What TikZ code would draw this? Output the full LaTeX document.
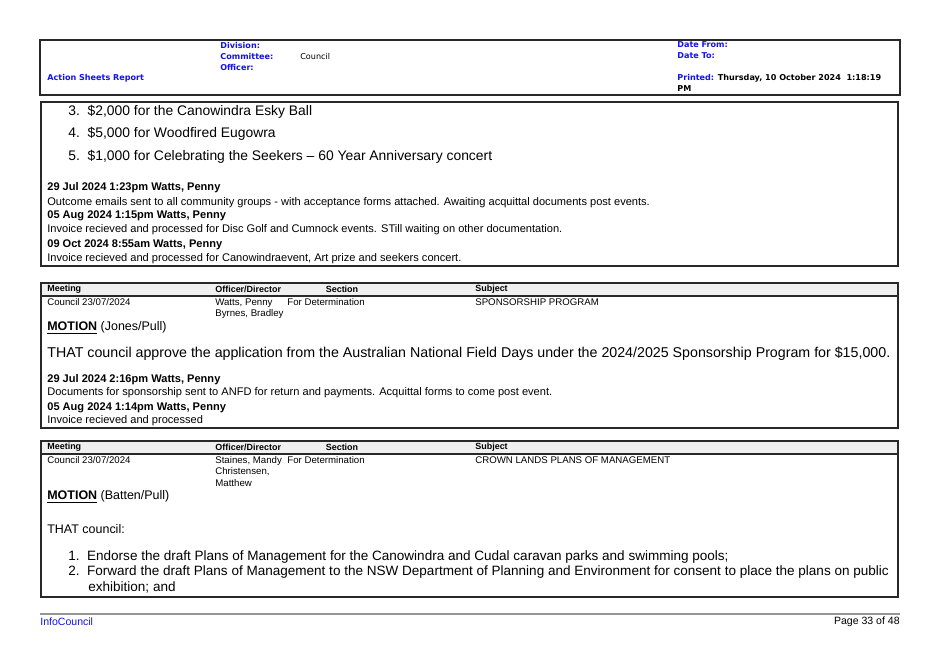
\documentclass[tikz,border=0pt]{standalone}
\usepackage{fontspec}
\setmainfont{Liberation Sans}
\newfontfamily\hdrfont{DejaVu Sans}
\usetikzlibrary{positioning}
\definecolor{hdrBlue}{RGB}{20, 20, 230}
\definecolor{frameGray}{RGB}{40, 40, 40}
\definecolor{bandGray}{RGB}{240, 240, 240}
\definecolor{ruleGray}{RGB}{150, 150, 150}
\tikzset{
    hdr/.style={
        font=\hdrfont\bfseries\fontsize{4.6}{5.6}\selectfont,
        text=hdrBlue,
        anchor=west,
        inner sep=0pt
    },
    big/.style={
        font=\fontsize{7.9}{9}\selectfont,
        anchor=west,
        inner sep=0pt
    },
    mid/.style={
        big,
        font=\fontsize{7.1}{8.5}\selectfont
    },
    small/.style={
        font=\fontsize{5.5}{6.6}\selectfont,
        anchor=west,
        inner sep=0pt
    },
    note/.style={
        small,
        font=\fontsize{6.3}{7.4}\selectfont
    },
    colhead/.style={
        small,
        font=\bfseries\fontsize{5.1}{6.2}\selectfont
    },
    frame/.style={
        draw=frameGray,
        line width=0.9pt
    }
}
\begin{document}
\begin{tikzpicture}[x=0.02cm, y=-0.02cm]
    \useasboundingbox (0,0) rectangle (940,664);
    \fill[white] (0,0) rectangle (940,664);

    % Page header
    \draw[frameGray, line width=0.6pt] (40,40) rectangle (900,95);
    \node[hdr] (division) at (220,45) {Division:};
    \node[hdr] (committee) at (220,56) {Committee:};
    \node[hdr] (officer) at (220,67) {Officer:};
    \node[small, font=\hdrfont\fontsize{4.6}{5.6}\selectfont] (council) at (300,56) {Council};
    \node[hdr] (report) at (47,78) {Action Sheets Report};
    \node[hdr] (datefrom) at (677,45) {Date From:};
    \node[hdr] (dateto) at (677,56) {Date To:};
    \node[hdr] (printed) at (677,78) {Printed: \textcolor{black}{Thursday, 10 October 2024\ \ 1:18:19}};
    \node[hdr, text=black] (pm) at (677,89) {PM};

    % First record (continued)
    \draw[frame] (41,102) rectangle (898,266);
    \node[big] (itemc) at (68,112) {3.\ \ \$2,000 for the Canowindra Esky Ball};
    \node[big] (itemd) at (68,134) {4.\ \ \$5,000 for Woodfired Eugowra};
    \node[big] (iteme) at (68,157) {5.\ \ \$1,000 for Celebrating the Seekers -- 60 Year Anniversary concert};
    \node[note, font=\bfseries\fontsize{6.3}{7.4}\selectfont] (notea) at (47,188) {29 Jul 2024 1:23pm Watts, Penny};
    \node[note] (texta) at (47,203) {Outcome emails sent to all community groups - with acceptance forms attached. Awaiting acquittal documents post events.};
    \node[note, font=\bfseries\fontsize{6.3}{7.4}\selectfont] (noteb) at (47,216) {05 Aug 2024 1:15pm Watts, Penny};
    \node[note] (textb) at (47,230) {Invoice recieved and processed for Disc Golf and Cumnock events. STill waiting on other documentation.};
    \node[note, font=\bfseries\fontsize{6.3}{7.4}\selectfont] (notec) at (47,245) {09 Oct 2024 8:55am Watts, Penny};
    \node[note] (textc) at (47,259) {Invoice recieved and processed for Canowindraevent, Art prize and seekers concert.};

    % Second record
    \fill[bandGray] (41,283) rectangle (898,296);
    \draw[frame] (41,283) rectangle (898,428);
    \draw[frameGray, line width=0.6pt] (41,296) -- (898,296);
    \node[colhead] (meetingb) at (47,289.5) {Meeting};
    \node[colhead] (officerb) at (215,289.5) {Officer/Director};
    \node[colhead, anchor=center] (sectionb) at (342,289.5) {Section};
    \node[colhead] (subjectb) at (475,289.5) {Subject};
    \node[small] (dateb) at (47,302) {Council 23/07/2024};
    \node[small, align=left, anchor=north west] (namesb) at (215,298) {Watts, Penny\\Byrnes, Bradley};
    \node[small] (detb) at (287,302) {For Determination};
    \node[small] (subjb) at (475,302) {SPONSORSHIP PROGRAM};
    \node[mid] (motionb) at (47,328) {\textbf{\underline{MOTION}} (Jones/Pull)};
    \node[big, font=\fontsize{8.1}{9.3}\selectfont] (thatb) at (47,354) {THAT council approve the application from the Australian National Field Days under the 2024/2025 Sponsorship Program for \$15,000.};
    \node[note, font=\bfseries\fontsize{6.3}{7.4}\selectfont] (noted) at (47,380) {29 Jul 2024 2:16pm Watts, Penny};
    \node[note] (textd) at (47,393) {Documents for sponsorship sent to ANFD for return and payments. Acquittal forms to come post event.};
    \node[note, font=\bfseries\fontsize{6.3}{7.4}\selectfont] (notee) at (47,408) {05 Aug 2024 1:14pm Watts, Penny};
    \node[note] (texte) at (47,421) {Invoice recieved and processed};

    % Third record
    \fill[bandGray] (41,441) rectangle (898,454);
    \draw[frame] (41,441) rectangle (898,597);
    \draw[frameGray, line width=0.6pt] (41,454) -- (898,454);
    \node[colhead] (meetingc) at (47,447.5) {Meeting};
    \node[colhead] (officerc) at (215,447.5) {Officer/Director};
    \node[colhead, anchor=center] (sectionc) at (342,447.5) {Section};
    \node[colhead] (subjectc) at (475,447.5) {Subject};
    \node[small] (datec) at (47,460) {Council 23/07/2024};
    \node[small, align=left, anchor=north west] (namesc) at (215,456) {Staines, Mandy\\Christensen,\\Matthew};
    \node[small] (detc) at (287,460) {For Determination};
    \node[small] (subjc) at (475,460) {CROWN LANDS PLANS OF MANAGEMENT};
    \node[mid] (motionc) at (47,497) {\textbf{\underline{MOTION}} (Batten/Pull)};
    \node[mid] (thatc) at (47,529) {THAT council:};
    \node[big, font=\fontsize{7.7}{9}\selectfont] (itema) at (68,557) {1.\ \ Endorse the draft Plans of Management for the Canowindra and Cudal caravan parks and swimming pools;};
    \node[big, font=\fontsize{7.7}{9}\selectfont] (itemb) at (68,572) {2.\ \ Forward the draft Plans of Management to the NSW Department of Planning and Environment for consent to place the plans on public};
    \node[big, font=\fontsize{7.7}{9}\selectfont] (itembb) at (88,587) {exhibition; and};

    % Page footer
    \draw[ruleGray, line width=0.6pt] (40,614) -- (900,614);
    \node[small, font=\fontsize{6}{7}\selectfont, text=hdrBlue] (infocouncil) at (40,622) {InfoCouncil};
    \node[small, font=\fontsize{6}{7}\selectfont, anchor=east] (pageno) at (900,622) {Page 33 of 48};
\end{tikzpicture}
\end{document}
